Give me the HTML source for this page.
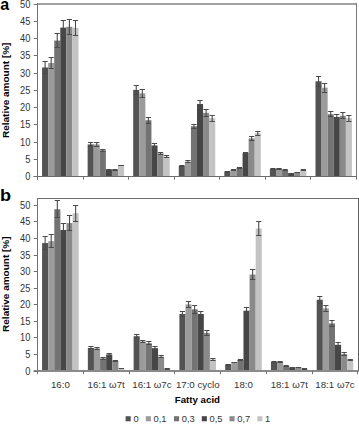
<!DOCTYPE html>
<html><head><meta charset="utf-8"><style>
html,body{margin:0;padding:0;background:#fff;}
body{width:359px;height:424px;overflow:hidden;}
svg{display:block;}
.t{font-family:"Liberation Sans",sans-serif;font-size:9.3px;fill:#333;}
.yt{font-family:"Liberation Sans",sans-serif;font-size:10px;fill:#333;}
.xl{font-family:"Liberation Sans",sans-serif;font-size:8.9px;fill:#333;}
.lt{font-family:"Liberation Sans",sans-serif;font-size:16px;font-weight:bold;fill:#000;}
.yl{font-family:"Liberation Sans",sans-serif;font-size:10px;font-weight:bold;fill:#000;}
.xt{font-family:"Liberation Sans",sans-serif;font-size:8.8px;font-weight:bold;fill:#000;}
</style></head><body>
<svg width="359" height="424" viewBox="0 0 359 424">
<rect width="359" height="424" fill="#fff"/>
<rect x="42.06" y="67.48" width="6.08" height="109.02" fill="#535353"/>
<rect x="48.13" y="63.00" width="6.08" height="113.50" fill="#9b9b9b"/>
<rect x="54.21" y="40.57" width="6.08" height="135.93" fill="#737373"/>
<rect x="60.29" y="27.63" width="6.08" height="148.87" fill="#464646"/>
<rect x="66.36" y="26.77" width="6.08" height="149.73" fill="#8a8a8a"/>
<rect x="72.44" y="27.80" width="6.08" height="148.70" fill="#c3c3c3"/>
<rect x="87.63" y="144.41" width="6.08" height="32.09" fill="#535353"/>
<rect x="93.70" y="144.41" width="6.08" height="32.09" fill="#9b9b9b"/>
<rect x="99.78" y="150.28" width="6.08" height="26.22" fill="#737373"/>
<rect x="105.86" y="169.60" width="6.08" height="6.90" fill="#464646"/>
<rect x="111.93" y="169.94" width="6.08" height="6.56" fill="#8a8a8a"/>
<rect x="118.01" y="165.63" width="6.08" height="10.87" fill="#c3c3c3"/>
<rect x="133.20" y="89.90" width="6.08" height="86.60" fill="#535353"/>
<rect x="139.28" y="93.35" width="6.08" height="83.15" fill="#9b9b9b"/>
<rect x="145.35" y="120.26" width="6.08" height="56.24" fill="#737373"/>
<rect x="151.43" y="145.45" width="6.08" height="31.05" fill="#464646"/>
<rect x="157.50" y="153.38" width="6.08" height="23.12" fill="#8a8a8a"/>
<rect x="163.58" y="156.66" width="6.08" height="19.84" fill="#c3c3c3"/>
<rect x="178.77" y="165.98" width="6.08" height="10.52" fill="#535353"/>
<rect x="184.85" y="161.66" width="6.08" height="14.84" fill="#9b9b9b"/>
<rect x="190.92" y="126.30" width="6.08" height="50.20" fill="#737373"/>
<rect x="197.00" y="104.05" width="6.08" height="72.45" fill="#464646"/>
<rect x="203.08" y="112.85" width="6.08" height="63.65" fill="#8a8a8a"/>
<rect x="209.15" y="118.19" width="6.08" height="58.31" fill="#c3c3c3"/>
<rect x="224.34" y="171.74" width="6.08" height="4.76" fill="#535353"/>
<rect x="230.42" y="170.29" width="6.08" height="6.21" fill="#9b9b9b"/>
<rect x="236.50" y="167.88" width="6.08" height="8.62" fill="#737373"/>
<rect x="242.57" y="153.21" width="6.08" height="23.29" fill="#464646"/>
<rect x="248.65" y="138.38" width="6.08" height="38.12" fill="#8a8a8a"/>
<rect x="254.72" y="133.20" width="6.08" height="43.30" fill="#c3c3c3"/>
<rect x="269.91" y="168.91" width="6.08" height="7.59" fill="#535353"/>
<rect x="275.99" y="168.74" width="6.08" height="7.76" fill="#9b9b9b"/>
<rect x="282.07" y="170.29" width="6.08" height="6.21" fill="#737373"/>
<rect x="288.14" y="173.46" width="6.08" height="3.04" fill="#464646"/>
<rect x="294.22" y="172.36" width="6.08" height="4.14" fill="#8a8a8a"/>
<rect x="300.30" y="170.29" width="6.08" height="6.21" fill="#c3c3c3"/>
<rect x="315.49" y="81.28" width="6.08" height="95.22" fill="#535353"/>
<rect x="321.56" y="87.66" width="6.08" height="88.84" fill="#9b9b9b"/>
<rect x="327.64" y="114.23" width="6.08" height="62.27" fill="#737373"/>
<rect x="333.71" y="116.99" width="6.08" height="59.51" fill="#464646"/>
<rect x="339.79" y="115.78" width="6.08" height="60.72" fill="#8a8a8a"/>
<rect x="345.87" y="118.19" width="6.08" height="58.31" fill="#c3c3c3"/>
<path d="M45.10 61.50V73.50" stroke="#4a4a4a" stroke-width="1.1" fill="none"/>
<path d="M42.50 61.50H47.70M42.50 73.50H47.70" stroke="#4a4a4a" stroke-width="1" fill="none"/>
<path d="M51.17 57.50V68.50" stroke="#4a4a4a" stroke-width="1.1" fill="none"/>
<path d="M48.57 57.50H53.77M48.57 68.50H53.77" stroke="#4a4a4a" stroke-width="1" fill="none"/>
<path d="M57.25 33.50V47.50" stroke="#4a4a4a" stroke-width="1.1" fill="none"/>
<path d="M54.65 33.50H59.85M54.65 47.50H59.85" stroke="#4a4a4a" stroke-width="1" fill="none"/>
<path d="M63.32 20.50V35.50" stroke="#4a4a4a" stroke-width="1.1" fill="none"/>
<path d="M60.72 20.50H65.92M60.72 35.50H65.92" stroke="#4a4a4a" stroke-width="1" fill="none"/>
<path d="M69.40 19.50V34.50" stroke="#4a4a4a" stroke-width="1.1" fill="none"/>
<path d="M66.80 19.50H72.00M66.80 34.50H72.00" stroke="#4a4a4a" stroke-width="1" fill="none"/>
<path d="M75.48 20.50V35.50" stroke="#4a4a4a" stroke-width="1.1" fill="none"/>
<path d="M72.88 20.50H78.08M72.88 35.50H78.08" stroke="#4a4a4a" stroke-width="1" fill="none"/>
<path d="M90.67 142.50V146.50" stroke="#4a4a4a" stroke-width="1.1" fill="none"/>
<path d="M88.07 142.50H93.27M88.07 146.50H93.27" stroke="#4a4a4a" stroke-width="1" fill="none"/>
<path d="M96.74 142.50V146.50" stroke="#4a4a4a" stroke-width="1.1" fill="none"/>
<path d="M94.14 142.50H99.34M94.14 146.50H99.34" stroke="#4a4a4a" stroke-width="1" fill="none"/>
<path d="M102.82 149.50V151.50" stroke="#4a4a4a" stroke-width="1.1" fill="none"/>
<path d="M100.22 149.50H105.42M100.22 151.50H105.42" stroke="#4a4a4a" stroke-width="1" fill="none"/>
<path d="M108.90 169.50V170.50" stroke="#4a4a4a" stroke-width="1.1" fill="none"/>
<path d="M106.30 169.50H111.50M106.30 170.50H111.50" stroke="#4a4a4a" stroke-width="1" fill="none"/>
<path d="M114.97 169.50V170.50" stroke="#4a4a4a" stroke-width="1.1" fill="none"/>
<path d="M112.37 169.50H117.57M112.37 170.50H117.57" stroke="#4a4a4a" stroke-width="1" fill="none"/>
<path d="M121.05 165.50V165.50" stroke="#4a4a4a" stroke-width="1.1" fill="none"/>
<path d="M118.45 165.50H123.65M118.45 165.50H123.65" stroke="#4a4a4a" stroke-width="1" fill="none"/>
<path d="M136.24 85.50V94.50" stroke="#4a4a4a" stroke-width="1.1" fill="none"/>
<path d="M133.64 85.50H138.84M133.64 94.50H138.84" stroke="#4a4a4a" stroke-width="1" fill="none"/>
<path d="M142.31 89.50V97.50" stroke="#4a4a4a" stroke-width="1.1" fill="none"/>
<path d="M139.71 89.50H144.91M139.71 97.50H144.91" stroke="#4a4a4a" stroke-width="1" fill="none"/>
<path d="M148.39 117.50V123.50" stroke="#4a4a4a" stroke-width="1.1" fill="none"/>
<path d="M145.79 117.50H150.99M145.79 123.50H150.99" stroke="#4a4a4a" stroke-width="1" fill="none"/>
<path d="M154.47 143.50V147.50" stroke="#4a4a4a" stroke-width="1.1" fill="none"/>
<path d="M151.87 143.50H157.07M151.87 147.50H157.07" stroke="#4a4a4a" stroke-width="1" fill="none"/>
<path d="M160.54 152.50V154.50" stroke="#4a4a4a" stroke-width="1.1" fill="none"/>
<path d="M157.94 152.50H163.14M157.94 154.50H163.14" stroke="#4a4a4a" stroke-width="1" fill="none"/>
<path d="M166.62 155.50V157.50" stroke="#4a4a4a" stroke-width="1.1" fill="none"/>
<path d="M164.02 155.50H169.22M164.02 157.50H169.22" stroke="#4a4a4a" stroke-width="1" fill="none"/>
<path d="M181.81 165.50V166.50" stroke="#4a4a4a" stroke-width="1.1" fill="none"/>
<path d="M179.21 165.50H184.41M179.21 166.50H184.41" stroke="#4a4a4a" stroke-width="1" fill="none"/>
<path d="M187.89 160.50V162.50" stroke="#4a4a4a" stroke-width="1.1" fill="none"/>
<path d="M185.29 160.50H190.49M185.29 162.50H190.49" stroke="#4a4a4a" stroke-width="1" fill="none"/>
<path d="M193.96 124.50V128.50" stroke="#4a4a4a" stroke-width="1.1" fill="none"/>
<path d="M191.36 124.50H196.56M191.36 128.50H196.56" stroke="#4a4a4a" stroke-width="1" fill="none"/>
<path d="M200.04 100.50V107.50" stroke="#4a4a4a" stroke-width="1.1" fill="none"/>
<path d="M197.44 100.50H202.64M197.44 107.50H202.64" stroke="#4a4a4a" stroke-width="1" fill="none"/>
<path d="M206.11 109.50V116.50" stroke="#4a4a4a" stroke-width="1.1" fill="none"/>
<path d="M203.51 109.50H208.71M203.51 116.50H208.71" stroke="#4a4a4a" stroke-width="1" fill="none"/>
<path d="M212.19 115.50V121.50" stroke="#4a4a4a" stroke-width="1.1" fill="none"/>
<path d="M209.59 115.50H214.79M209.59 121.50H214.79" stroke="#4a4a4a" stroke-width="1" fill="none"/>
<path d="M227.38 171.50V172.50" stroke="#4a4a4a" stroke-width="1.1" fill="none"/>
<path d="M224.78 171.50H229.98M224.78 172.50H229.98" stroke="#4a4a4a" stroke-width="1" fill="none"/>
<path d="M233.46 169.50V170.50" stroke="#4a4a4a" stroke-width="1.1" fill="none"/>
<path d="M230.86 169.50H236.06M230.86 170.50H236.06" stroke="#4a4a4a" stroke-width="1" fill="none"/>
<path d="M239.53 167.50V168.50" stroke="#4a4a4a" stroke-width="1.1" fill="none"/>
<path d="M236.93 167.50H242.13M236.93 168.50H242.13" stroke="#4a4a4a" stroke-width="1" fill="none"/>
<path d="M245.61 152.50V153.50" stroke="#4a4a4a" stroke-width="1.1" fill="none"/>
<path d="M243.01 152.50H248.21M243.01 153.50H248.21" stroke="#4a4a4a" stroke-width="1" fill="none"/>
<path d="M251.69 136.50V140.50" stroke="#4a4a4a" stroke-width="1.1" fill="none"/>
<path d="M249.09 136.50H254.29M249.09 140.50H254.29" stroke="#4a4a4a" stroke-width="1" fill="none"/>
<path d="M257.76 131.50V135.50" stroke="#4a4a4a" stroke-width="1.1" fill="none"/>
<path d="M255.16 131.50H260.36M255.16 135.50H260.36" stroke="#4a4a4a" stroke-width="1" fill="none"/>
<path d="M272.95 168.50V169.50" stroke="#4a4a4a" stroke-width="1.1" fill="none"/>
<path d="M270.35 168.50H275.55M270.35 169.50H275.55" stroke="#4a4a4a" stroke-width="1" fill="none"/>
<path d="M279.03 168.50V169.50" stroke="#4a4a4a" stroke-width="1.1" fill="none"/>
<path d="M276.43 168.50H281.63M276.43 169.50H281.63" stroke="#4a4a4a" stroke-width="1" fill="none"/>
<path d="M285.10 169.50V170.50" stroke="#4a4a4a" stroke-width="1.1" fill="none"/>
<path d="M282.50 169.50H287.70M282.50 170.50H287.70" stroke="#4a4a4a" stroke-width="1" fill="none"/>
<path d="M291.18 173.50V173.50" stroke="#4a4a4a" stroke-width="1.1" fill="none"/>
<path d="M288.58 173.50H293.78M288.58 173.50H293.78" stroke="#4a4a4a" stroke-width="1" fill="none"/>
<path d="M297.26 172.50V172.50" stroke="#4a4a4a" stroke-width="1.1" fill="none"/>
<path d="M294.66 172.50H299.86M294.66 172.50H299.86" stroke="#4a4a4a" stroke-width="1" fill="none"/>
<path d="M303.33 169.50V170.50" stroke="#4a4a4a" stroke-width="1.1" fill="none"/>
<path d="M300.73 169.50H305.93M300.73 170.50H305.93" stroke="#4a4a4a" stroke-width="1" fill="none"/>
<path d="M318.52 76.50V86.50" stroke="#4a4a4a" stroke-width="1.1" fill="none"/>
<path d="M315.92 76.50H321.12M315.92 86.50H321.12" stroke="#4a4a4a" stroke-width="1" fill="none"/>
<path d="M324.60 83.50V92.50" stroke="#4a4a4a" stroke-width="1.1" fill="none"/>
<path d="M322.00 83.50H327.20M322.00 92.50H327.20" stroke="#4a4a4a" stroke-width="1" fill="none"/>
<path d="M330.68 111.50V116.50" stroke="#4a4a4a" stroke-width="1.1" fill="none"/>
<path d="M328.08 111.50H333.28M328.08 116.50H333.28" stroke="#4a4a4a" stroke-width="1" fill="none"/>
<path d="M336.75 114.50V119.50" stroke="#4a4a4a" stroke-width="1.1" fill="none"/>
<path d="M334.15 114.50H339.35M334.15 119.50H339.35" stroke="#4a4a4a" stroke-width="1" fill="none"/>
<path d="M342.83 112.50V118.50" stroke="#4a4a4a" stroke-width="1.1" fill="none"/>
<path d="M340.23 112.50H345.43M340.23 118.50H345.43" stroke="#4a4a4a" stroke-width="1" fill="none"/>
<path d="M348.90 115.50V121.50" stroke="#4a4a4a" stroke-width="1.1" fill="none"/>
<path d="M346.30 115.50H351.50M346.30 121.50H351.50" stroke="#4a4a4a" stroke-width="1" fill="none"/>
<rect x="37.00" y="3.00" width="320.00" height="2.00" fill="#a2a2a2"/>
<rect x="356.00" y="3.00" width="1.00" height="174.00" fill="#7a7a7a"/>
<rect x="37.00" y="3.00" width="1.00" height="177.00" fill="#727272"/>
<rect x="33.70" y="176.00" width="323.00" height="1.00" fill="#6c6c6c"/>
<path d="M33.70 176.50H37.50" stroke="#727272" stroke-width="1"/>
<text transform="translate(30.4 180.00) scale(0.93 1)" text-anchor="end" class="yt">0</text>
<path d="M33.70 159.50H37.50" stroke="#727272" stroke-width="1"/>
<text transform="translate(30.4 162.75) scale(0.93 1)" text-anchor="end" class="yt">5</text>
<path d="M33.70 142.50H37.50" stroke="#727272" stroke-width="1"/>
<text transform="translate(30.4 145.50) scale(0.93 1)" text-anchor="end" class="yt">10</text>
<path d="M33.70 124.50H37.50" stroke="#727272" stroke-width="1"/>
<text transform="translate(30.4 128.25) scale(0.93 1)" text-anchor="end" class="yt">15</text>
<path d="M33.70 107.50H37.50" stroke="#727272" stroke-width="1"/>
<text transform="translate(30.4 111.00) scale(0.93 1)" text-anchor="end" class="yt">20</text>
<path d="M33.70 90.50H37.50" stroke="#727272" stroke-width="1"/>
<text transform="translate(30.4 93.75) scale(0.93 1)" text-anchor="end" class="yt">25</text>
<path d="M33.70 73.50H37.50" stroke="#727272" stroke-width="1"/>
<text transform="translate(30.4 76.50) scale(0.93 1)" text-anchor="end" class="yt">30</text>
<path d="M33.70 55.50H37.50" stroke="#727272" stroke-width="1"/>
<text transform="translate(30.4 59.25) scale(0.93 1)" text-anchor="end" class="yt">35</text>
<path d="M33.70 38.50H37.50" stroke="#727272" stroke-width="1"/>
<text transform="translate(30.4 42.00) scale(0.93 1)" text-anchor="end" class="yt">40</text>
<path d="M33.70 21.50H37.50" stroke="#727272" stroke-width="1"/>
<text transform="translate(30.4 24.75) scale(0.93 1)" text-anchor="end" class="yt">45</text>
<path d="M33.70 4.50H37.50" stroke="#727272" stroke-width="1"/>
<text transform="translate(30.4 7.50) scale(0.93 1)" text-anchor="end" class="yt">50</text>
<path d="M37.50 176.50V179.70" stroke="#727272" stroke-width="1"/>
<path d="M83.50 176.50V179.70" stroke="#727272" stroke-width="1"/>
<path d="M128.50 176.50V179.70" stroke="#727272" stroke-width="1"/>
<path d="M174.50 176.50V179.70" stroke="#727272" stroke-width="1"/>
<path d="M219.50 176.50V179.70" stroke="#727272" stroke-width="1"/>
<path d="M265.50 176.50V179.70" stroke="#727272" stroke-width="1"/>
<path d="M310.50 176.50V179.70" stroke="#727272" stroke-width="1"/>
<path d="M356.50 176.50V179.70" stroke="#727272" stroke-width="1"/>
<text transform="translate(0.20 10.00) scale(1.00 1)" class="lt">a</text>
<text transform="translate(9.0 90.30) rotate(-90) scale(1 0.9)" text-anchor="middle" class="yl">Relative amount [%]</text>
<rect x="42.08" y="243.08" width="6.10" height="127.92" fill="#535353"/>
<rect x="48.18" y="241.19" width="6.10" height="129.81" fill="#9b9b9b"/>
<rect x="54.28" y="209.28" width="6.10" height="161.72" fill="#737373"/>
<rect x="60.39" y="229.96" width="6.10" height="141.04" fill="#464646"/>
<rect x="66.49" y="223.06" width="6.10" height="147.94" fill="#8a8a8a"/>
<rect x="72.59" y="213.29" width="6.10" height="157.71" fill="#c3c3c3"/>
<rect x="87.85" y="347.97" width="6.10" height="23.03" fill="#535353"/>
<rect x="93.95" y="348.46" width="6.10" height="22.54" fill="#9b9b9b"/>
<rect x="100.05" y="358.41" width="6.10" height="12.59" fill="#737373"/>
<rect x="106.16" y="354.43" width="6.10" height="16.57" fill="#464646"/>
<rect x="112.26" y="361.06" width="6.10" height="9.94" fill="#8a8a8a"/>
<rect x="118.36" y="368.51" width="6.10" height="2.49" fill="#c3c3c3"/>
<rect x="133.62" y="336.20" width="6.10" height="34.80" fill="#535353"/>
<rect x="139.72" y="341.51" width="6.10" height="29.49" fill="#9b9b9b"/>
<rect x="145.83" y="343.33" width="6.10" height="27.67" fill="#737373"/>
<rect x="151.93" y="348.13" width="6.10" height="22.87" fill="#464646"/>
<rect x="158.03" y="356.75" width="6.10" height="14.25" fill="#8a8a8a"/>
<rect x="164.13" y="368.68" width="6.10" height="2.32" fill="#c3c3c3"/>
<rect x="179.39" y="314.00" width="6.10" height="57.00" fill="#535353"/>
<rect x="185.49" y="304.39" width="6.10" height="66.61" fill="#9b9b9b"/>
<rect x="191.60" y="309.36" width="6.10" height="61.64" fill="#737373"/>
<rect x="197.70" y="314.00" width="6.10" height="57.00" fill="#464646"/>
<rect x="203.80" y="332.89" width="6.10" height="38.11" fill="#8a8a8a"/>
<rect x="209.91" y="359.40" width="6.10" height="11.60" fill="#c3c3c3"/>
<rect x="225.16" y="364.70" width="6.10" height="6.30" fill="#535353"/>
<rect x="231.27" y="362.38" width="6.10" height="8.62" fill="#9b9b9b"/>
<rect x="237.37" y="360.06" width="6.10" height="10.94" fill="#737373"/>
<rect x="243.47" y="310.69" width="6.10" height="60.31" fill="#464646"/>
<rect x="249.57" y="274.56" width="6.10" height="96.44" fill="#8a8a8a"/>
<rect x="255.68" y="228.50" width="6.10" height="142.50" fill="#c3c3c3"/>
<rect x="270.93" y="362.05" width="6.10" height="8.95" fill="#535353"/>
<rect x="277.04" y="362.05" width="6.10" height="8.95" fill="#9b9b9b"/>
<rect x="283.14" y="366.03" width="6.10" height="4.97" fill="#737373"/>
<rect x="289.24" y="367.69" width="6.10" height="3.31" fill="#464646"/>
<rect x="295.35" y="367.35" width="6.10" height="3.65" fill="#8a8a8a"/>
<rect x="301.45" y="369.01" width="6.10" height="1.99" fill="#c3c3c3"/>
<rect x="316.71" y="299.75" width="6.10" height="71.25" fill="#535353"/>
<rect x="322.81" y="308.37" width="6.10" height="62.63" fill="#9b9b9b"/>
<rect x="328.91" y="323.44" width="6.10" height="47.56" fill="#737373"/>
<rect x="335.01" y="344.82" width="6.10" height="26.18" fill="#464646"/>
<rect x="341.12" y="354.10" width="6.10" height="16.90" fill="#8a8a8a"/>
<rect x="347.22" y="360.06" width="6.10" height="10.94" fill="#c3c3c3"/>
<path d="M45.13 236.50V249.50" stroke="#4a4a4a" stroke-width="1.1" fill="none"/>
<path d="M42.53 236.50H47.73M42.53 249.50H47.73" stroke="#4a4a4a" stroke-width="1" fill="none"/>
<path d="M51.23 234.50V247.50" stroke="#4a4a4a" stroke-width="1.1" fill="none"/>
<path d="M48.63 234.50H53.83M48.63 247.50H53.83" stroke="#4a4a4a" stroke-width="1" fill="none"/>
<path d="M57.33 200.50V217.50" stroke="#4a4a4a" stroke-width="1.1" fill="none"/>
<path d="M54.73 200.50H59.93M54.73 217.50H59.93" stroke="#4a4a4a" stroke-width="1" fill="none"/>
<path d="M63.44 223.50V236.50" stroke="#4a4a4a" stroke-width="1.1" fill="none"/>
<path d="M60.84 223.50H66.04M60.84 236.50H66.04" stroke="#4a4a4a" stroke-width="1" fill="none"/>
<path d="M69.54 215.50V230.50" stroke="#4a4a4a" stroke-width="1.1" fill="none"/>
<path d="M66.94 215.50H72.14M66.94 230.50H72.14" stroke="#4a4a4a" stroke-width="1" fill="none"/>
<path d="M75.64 205.50V221.50" stroke="#4a4a4a" stroke-width="1.1" fill="none"/>
<path d="M73.04 205.50H78.24M73.04 221.50H78.24" stroke="#4a4a4a" stroke-width="1" fill="none"/>
<path d="M90.90 346.50V348.50" stroke="#4a4a4a" stroke-width="1.1" fill="none"/>
<path d="M88.30 346.50H93.50M88.30 348.50H93.50" stroke="#4a4a4a" stroke-width="1" fill="none"/>
<path d="M97.00 347.50V349.50" stroke="#4a4a4a" stroke-width="1.1" fill="none"/>
<path d="M94.40 347.50H99.60M94.40 349.50H99.60" stroke="#4a4a4a" stroke-width="1" fill="none"/>
<path d="M103.11 357.50V359.50" stroke="#4a4a4a" stroke-width="1.1" fill="none"/>
<path d="M100.51 357.50H105.71M100.51 359.50H105.71" stroke="#4a4a4a" stroke-width="1" fill="none"/>
<path d="M109.21 353.50V355.50" stroke="#4a4a4a" stroke-width="1.1" fill="none"/>
<path d="M106.61 353.50H111.81M106.61 355.50H111.81" stroke="#4a4a4a" stroke-width="1" fill="none"/>
<path d="M115.31 360.50V361.50" stroke="#4a4a4a" stroke-width="1.1" fill="none"/>
<path d="M112.71 360.50H117.91M112.71 361.50H117.91" stroke="#4a4a4a" stroke-width="1" fill="none"/>
<path d="M121.41 368.50V368.50" stroke="#4a4a4a" stroke-width="1.1" fill="none"/>
<path d="M118.81 368.50H124.01M118.81 368.50H124.01" stroke="#4a4a4a" stroke-width="1" fill="none"/>
<path d="M136.67 334.50V338.50" stroke="#4a4a4a" stroke-width="1.1" fill="none"/>
<path d="M134.07 334.50H139.27M134.07 338.50H139.27" stroke="#4a4a4a" stroke-width="1" fill="none"/>
<path d="M142.77 340.50V342.50" stroke="#4a4a4a" stroke-width="1.1" fill="none"/>
<path d="M140.17 340.50H145.37M140.17 342.50H145.37" stroke="#4a4a4a" stroke-width="1" fill="none"/>
<path d="M148.88 341.50V344.50" stroke="#4a4a4a" stroke-width="1.1" fill="none"/>
<path d="M146.28 341.50H151.48M146.28 344.50H151.48" stroke="#4a4a4a" stroke-width="1" fill="none"/>
<path d="M154.98 346.50V349.50" stroke="#4a4a4a" stroke-width="1.1" fill="none"/>
<path d="M152.38 346.50H157.58M152.38 349.50H157.58" stroke="#4a4a4a" stroke-width="1" fill="none"/>
<path d="M161.08 355.50V357.50" stroke="#4a4a4a" stroke-width="1.1" fill="none"/>
<path d="M158.48 355.50H163.68M158.48 357.50H163.68" stroke="#4a4a4a" stroke-width="1" fill="none"/>
<path d="M167.19 368.50V369.50" stroke="#4a4a4a" stroke-width="1.1" fill="none"/>
<path d="M164.59 368.50H169.79M164.59 369.50H169.79" stroke="#4a4a4a" stroke-width="1" fill="none"/>
<path d="M182.44 311.50V316.50" stroke="#4a4a4a" stroke-width="1.1" fill="none"/>
<path d="M179.84 311.50H185.04M179.84 316.50H185.04" stroke="#4a4a4a" stroke-width="1" fill="none"/>
<path d="M188.55 301.50V307.50" stroke="#4a4a4a" stroke-width="1.1" fill="none"/>
<path d="M185.95 301.50H191.15M185.95 307.50H191.15" stroke="#4a4a4a" stroke-width="1" fill="none"/>
<path d="M194.65 305.50V313.50" stroke="#4a4a4a" stroke-width="1.1" fill="none"/>
<path d="M192.05 305.50H197.25M192.05 313.50H197.25" stroke="#4a4a4a" stroke-width="1" fill="none"/>
<path d="M200.75 311.50V316.50" stroke="#4a4a4a" stroke-width="1.1" fill="none"/>
<path d="M198.15 311.50H203.35M198.15 316.50H203.35" stroke="#4a4a4a" stroke-width="1" fill="none"/>
<path d="M206.85 330.50V335.50" stroke="#4a4a4a" stroke-width="1.1" fill="none"/>
<path d="M204.25 330.50H209.45M204.25 335.50H209.45" stroke="#4a4a4a" stroke-width="1" fill="none"/>
<path d="M212.96 358.50V360.50" stroke="#4a4a4a" stroke-width="1.1" fill="none"/>
<path d="M210.36 358.50H215.56M210.36 360.50H215.56" stroke="#4a4a4a" stroke-width="1" fill="none"/>
<path d="M228.21 364.50V365.50" stroke="#4a4a4a" stroke-width="1.1" fill="none"/>
<path d="M225.61 364.50H230.81M225.61 365.50H230.81" stroke="#4a4a4a" stroke-width="1" fill="none"/>
<path d="M234.32 362.50V362.50" stroke="#4a4a4a" stroke-width="1.1" fill="none"/>
<path d="M231.72 362.50H236.92M231.72 362.50H236.92" stroke="#4a4a4a" stroke-width="1" fill="none"/>
<path d="M240.42 359.50V360.50" stroke="#4a4a4a" stroke-width="1.1" fill="none"/>
<path d="M237.82 359.50H243.02M237.82 360.50H243.02" stroke="#4a4a4a" stroke-width="1" fill="none"/>
<path d="M246.52 307.50V313.50" stroke="#4a4a4a" stroke-width="1.1" fill="none"/>
<path d="M243.92 307.50H249.12M243.92 313.50H249.12" stroke="#4a4a4a" stroke-width="1" fill="none"/>
<path d="M252.63 269.50V279.50" stroke="#4a4a4a" stroke-width="1.1" fill="none"/>
<path d="M250.03 269.50H255.23M250.03 279.50H255.23" stroke="#4a4a4a" stroke-width="1" fill="none"/>
<path d="M258.73 221.50V235.50" stroke="#4a4a4a" stroke-width="1.1" fill="none"/>
<path d="M256.13 221.50H261.33M256.13 235.50H261.33" stroke="#4a4a4a" stroke-width="1" fill="none"/>
<path d="M273.99 361.50V362.50" stroke="#4a4a4a" stroke-width="1.1" fill="none"/>
<path d="M271.39 361.50H276.59M271.39 362.50H276.59" stroke="#4a4a4a" stroke-width="1" fill="none"/>
<path d="M280.09 361.50V362.50" stroke="#4a4a4a" stroke-width="1.1" fill="none"/>
<path d="M277.49 361.50H282.69M277.49 362.50H282.69" stroke="#4a4a4a" stroke-width="1" fill="none"/>
<path d="M286.19 365.50V366.50" stroke="#4a4a4a" stroke-width="1.1" fill="none"/>
<path d="M283.59 365.50H288.79M283.59 366.50H288.79" stroke="#4a4a4a" stroke-width="1" fill="none"/>
<path d="M292.29 367.50V368.50" stroke="#4a4a4a" stroke-width="1.1" fill="none"/>
<path d="M289.69 367.50H294.89M289.69 368.50H294.89" stroke="#4a4a4a" stroke-width="1" fill="none"/>
<path d="M298.40 367.50V367.50" stroke="#4a4a4a" stroke-width="1.1" fill="none"/>
<path d="M295.80 367.50H301.00M295.80 367.50H301.00" stroke="#4a4a4a" stroke-width="1" fill="none"/>
<path d="M304.50 368.50V369.50" stroke="#4a4a4a" stroke-width="1.1" fill="none"/>
<path d="M301.90 368.50H307.10M301.90 369.50H307.10" stroke="#4a4a4a" stroke-width="1" fill="none"/>
<path d="M319.76 296.50V303.50" stroke="#4a4a4a" stroke-width="1.1" fill="none"/>
<path d="M317.16 296.50H322.36M317.16 303.50H322.36" stroke="#4a4a4a" stroke-width="1" fill="none"/>
<path d="M325.86 305.50V311.50" stroke="#4a4a4a" stroke-width="1.1" fill="none"/>
<path d="M323.26 305.50H328.46M323.26 311.50H328.46" stroke="#4a4a4a" stroke-width="1" fill="none"/>
<path d="M331.96 320.50V326.50" stroke="#4a4a4a" stroke-width="1.1" fill="none"/>
<path d="M329.36 320.50H334.56M329.36 326.50H334.56" stroke="#4a4a4a" stroke-width="1" fill="none"/>
<path d="M338.07 342.50V346.50" stroke="#4a4a4a" stroke-width="1.1" fill="none"/>
<path d="M335.47 342.50H340.67M335.47 346.50H340.67" stroke="#4a4a4a" stroke-width="1" fill="none"/>
<path d="M344.17 352.50V355.50" stroke="#4a4a4a" stroke-width="1.1" fill="none"/>
<path d="M341.57 352.50H346.77M341.57 355.50H346.77" stroke="#4a4a4a" stroke-width="1" fill="none"/>
<path d="M350.27 359.50V360.50" stroke="#4a4a4a" stroke-width="1.1" fill="none"/>
<path d="M347.67 359.50H352.87M347.67 360.50H352.87" stroke="#4a4a4a" stroke-width="1" fill="none"/>
<rect x="37.00" y="198.00" width="322.00" height="1.00" fill="#6e6e6e"/>
<rect x="358.00" y="198.00" width="1.00" height="173.00" fill="#606060"/>
<rect x="37.00" y="198.00" width="1.00" height="176.00" fill="#727272"/>
<rect x="33.70" y="370.00" width="325.00" height="2.00" fill="#8a8a8a"/>
<path d="M33.70 371.50H37.50" stroke="#727272" stroke-width="1"/>
<text transform="translate(30.4 374.50) scale(0.93 1)" text-anchor="end" class="yt">0</text>
<path d="M33.70 354.50H37.50" stroke="#727272" stroke-width="1"/>
<text transform="translate(30.4 357.93) scale(0.93 1)" text-anchor="end" class="yt">5</text>
<path d="M33.70 337.50H37.50" stroke="#727272" stroke-width="1"/>
<text transform="translate(30.4 341.36) scale(0.93 1)" text-anchor="end" class="yt">10</text>
<path d="M33.70 321.50H37.50" stroke="#727272" stroke-width="1"/>
<text transform="translate(30.4 324.79) scale(0.93 1)" text-anchor="end" class="yt">15</text>
<path d="M33.70 304.50H37.50" stroke="#727272" stroke-width="1"/>
<text transform="translate(30.4 308.22) scale(0.93 1)" text-anchor="end" class="yt">20</text>
<path d="M33.70 288.50H37.50" stroke="#727272" stroke-width="1"/>
<text transform="translate(30.4 291.65) scale(0.93 1)" text-anchor="end" class="yt">25</text>
<path d="M33.70 271.50H37.50" stroke="#727272" stroke-width="1"/>
<text transform="translate(30.4 275.08) scale(0.93 1)" text-anchor="end" class="yt">30</text>
<path d="M33.70 255.50H37.50" stroke="#727272" stroke-width="1"/>
<text transform="translate(30.4 258.51) scale(0.93 1)" text-anchor="end" class="yt">35</text>
<path d="M33.70 238.50H37.50" stroke="#727272" stroke-width="1"/>
<text transform="translate(30.4 241.94) scale(0.93 1)" text-anchor="end" class="yt">40</text>
<path d="M33.70 221.50H37.50" stroke="#727272" stroke-width="1"/>
<text transform="translate(30.4 225.37) scale(0.93 1)" text-anchor="end" class="yt">45</text>
<path d="M33.70 205.50H37.50" stroke="#727272" stroke-width="1"/>
<text transform="translate(30.4 208.80) scale(0.93 1)" text-anchor="end" class="yt">50</text>
<path d="M37.50 371.00V374.20" stroke="#727272" stroke-width="1"/>
<path d="M83.50 371.00V374.20" stroke="#727272" stroke-width="1"/>
<path d="M129.50 371.00V374.20" stroke="#727272" stroke-width="1"/>
<path d="M174.50 371.00V374.20" stroke="#727272" stroke-width="1"/>
<path d="M220.50 371.00V374.20" stroke="#727272" stroke-width="1"/>
<path d="M266.50 371.00V374.20" stroke="#727272" stroke-width="1"/>
<path d="M312.50 371.00V374.20" stroke="#727272" stroke-width="1"/>
<path d="M357.50 371.00V374.20" stroke="#727272" stroke-width="1"/>
<text transform="translate(0.10 201.00) scale(1.13 1)" class="lt">b</text>
<text transform="translate(9.0 284.20) rotate(-90) scale(1 0.9)" text-anchor="middle" class="yl">Relative amount [%]</text>
<text transform="translate(60.39 387.8) scale(1.09 1)" text-anchor="middle" class="xl">16:0</text>
<text transform="translate(106.16 387.8) scale(1.09 1)" text-anchor="middle" class="xl">16:1 ω7t</text>
<text transform="translate(151.93 387.8) scale(1.09 1)" text-anchor="middle" class="xl">16:1 ω7c</text>
<text transform="translate(197.70 387.8) scale(1.09 1)" text-anchor="middle" class="xl">17:0 cyclo</text>
<text transform="translate(243.47 387.8) scale(1.09 1)" text-anchor="middle" class="xl">18:0</text>
<text transform="translate(289.24 387.8) scale(1.09 1)" text-anchor="middle" class="xl">18:1 ω7t</text>
<text transform="translate(335.01 387.8) scale(1.09 1)" text-anchor="middle" class="xl">18:1 ω7c</text>
<text transform="translate(197.4 403.0) scale(1.1 1)" text-anchor="middle" class="xt">Fatty acid</text>
<rect x="125.6" y="416.2" width="5.1" height="5.1" fill="#535353"/>
<text x="133.4" y="421.6" class="t">0</text>
<rect x="145.8" y="416.2" width="5.1" height="5.1" fill="#9b9b9b"/>
<text x="153.6" y="421.6" class="t">0,1</text>
<rect x="174.0" y="416.2" width="5.1" height="5.1" fill="#737373"/>
<text x="181.8" y="421.6" class="t">0,3</text>
<rect x="201.8" y="416.2" width="5.1" height="5.1" fill="#464646"/>
<text x="209.6" y="421.6" class="t">0,5</text>
<rect x="229.5" y="416.2" width="5.1" height="5.1" fill="#8a8a8a"/>
<text x="237.3" y="421.6" class="t">0,7</text>
<rect x="257.3" y="416.2" width="5.1" height="5.1" fill="#c3c3c3"/>
<text x="265.1" y="421.6" class="t">1</text>
</svg>
</body></html>
